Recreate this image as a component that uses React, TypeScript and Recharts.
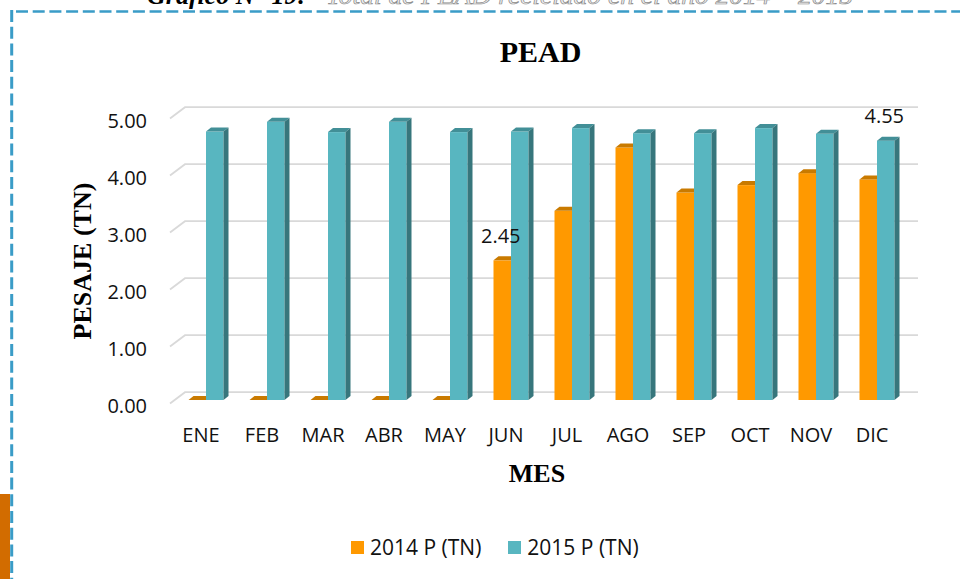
import React from 'react';
import { BarChart, Bar, XAxis, YAxis, CartesianGrid, Legend, LabelList } from 'recharts';

const meses = ['ENE', 'FEB', 'MAR', 'ABR', 'MAY', 'JUN', 'JUL', 'AGO', 'SEP', 'OCT', 'NOV', 'DIC'];
const p2014 = [0, 0, 0, 0, 0, 2.45, 3.32, 4.43, 3.64, 3.77, 3.98, 3.87];
const p2015 = [4.71, 4.88, 4.7, 4.88, 4.7, 4.71, 4.77, 4.68, 4.68, 4.77, 4.67, 4.55];
const etiquetas2014 = [null, null, null, null, null, 2.45, null, null, null, null, null, null];
const etiquetas2015 = [null, null, null, null, null, null, null, null, null, null, null, 4.55];
const yTicks = [0, 1, 2, 3, 4, 5];

const data = meses.map((m, i) => ({
  mes: m,
  a2014: p2014[i],
  a2015: p2015[i],
  l2014: etiquetas2014[i],
  l2015: etiquetas2015[i],
}));

const TICK_FONT = "'Open Sans', 'Noto Sans', sans-serif";
const SERIF = "'Liberation Serif', 'Times New Roman', serif";

const make3D = (front: string, top: string, side: string) => (props: any) => {
  const { x, y, width, height } = props;
  if (x == null || y == null) return null;
  const d = 5;
  const dv = 4;
  const h = Math.max(0, height || 0);
  return (
    <g>
      <rect x={x} y={y} width={width} height={h} fill={front} />
      <polygon points={`${x},${y} ${x + d},${y - dv} ${x + width + d},${y - dv} ${x + width},${y}`} fill={top} />
      <polygon
        points={`${x + width},${y} ${x + width + d},${y - dv} ${x + width + d},${y + h - dv} ${x + width},${y + h}`}
        fill={side}
      />
    </g>
  );
};

const gridLine = (props: any) => {
  const { x1, x2, y1, index } = props;
  const y = y1;
  const fx = x1 - 5.5;
  const bx = x1 + 9.5;
  return (
    <g key={`gl-${index}-${y}`}>
      <polyline
        points={`${fx},${y + 3.5} ${bx},${y - 7.8} ${x2 + 10.5},${y - 7.8}`}
        fill="none"
        stroke="#D9D9D9"
        strokeWidth={1.8}
      />
    </g>
  );
};

const YTick = (props: any) => {
  const { x, y, payload } = props;
  return (
    <text x={x - 28.5} y={y + 13} textAnchor="end" fontFamily={TICK_FONT} fontSize={20} fill="#111">
      {Number(payload.value).toFixed(2)}
    </text>
  );
};

const XTick = (props: any) => {
  const { x, y, payload } = props;
  return (
    <text x={x - 5} y={y + 41.7} textAnchor="middle" fontFamily={TICK_FONT} fontSize={20} fill="#111">
      {payload.value}
    </text>
  );
};

const ValueLabel = (props: any) => {
  const { x, y, width, value } = props;
  if (value == null) return null;
  return (
    <text x={x + width / 2 - 1.5} y={y - 17.3} textAnchor="middle" fontFamily={TICK_FONT} fontSize={20} fill="#111">
      {Number(value).toFixed(2)}
    </text>
  );
};

const LegendContent = (props: any) => {
  const { payload } = props;
  return (
    <div
      style={{
        position: 'absolute',
        left: 351,
        top: 534,
        height: 26,
        display: 'flex',
        alignItems: 'center',
        fontFamily: TICK_FONT,
        fontSize: 21,
        color: '#111',
        whiteSpace: 'nowrap',
      }}
    >
      {(payload || []).map((p: any, i: number) => (
        <div key={i} style={{ display: 'flex', alignItems: 'center', marginRight: 27 }}>
          <span style={{ display: 'inline-block', width: 13, height: 13, background: p.color, marginRight: 6 }} />
          <span style={{ lineHeight: '26px' }}>{p.value}</span>
        </div>
      ))}
    </div>
  );
};

export default function App() {
  return (
    <div
      style={{
        position: 'absolute',
        left: 0,
        top: 0,
        width: 960,
        height: 579,
        overflow: 'hidden',
        background: '#ffffff',
      }}
    >
      <BarChart
        width={960}
        height={579}
        data={data}
        margin={{ top: 115, right: 52.5, bottom: 119, left: 75.5 }}
        barSize={17.5}
        barGap={0}
      >
        <CartesianGrid vertical={false} horizontal={gridLine as any} />
        <XAxis
          dataKey="mes"
          axisLine={false}
          tickLine={false}
          tickSize={0}
          tickMargin={0}
          height={60}
          interval={0}
          tick={<XTick />}
        />
        <YAxis
          domain={[0, 5]}
          ticks={yTicks}
          axisLine={false}
          tickLine={false}
          tickSize={0}
          tickMargin={0}
          width={100}
          tick={<YTick />}
        />
        <Legend content={<LegendContent />} wrapperStyle={{ left: 0, top: 0, width: 0, height: 0 }} />
        <Bar
          dataKey="a2014"
          name="2014 P (TN)"
          fill="#FF9900"
          isAnimationActive={false}
          shape={make3D('#FF9900', '#C97A00', '#B86E00')}
        >
          <LabelList dataKey="l2014" content={<ValueLabel />} />
        </Bar>
        <Bar
          dataKey="a2015"
          name="2015 P (TN)"
          fill="#58B6C0"
          isAnimationActive={false}
          shape={make3D('#58B6C0', '#428F97', '#37767C')}
        >
          <LabelList dataKey="l2015" content={<ValueLabel />} />
        </Bar>
      </BarChart>
      <svg
        width={960}
        height={579}
        style={{ position: 'absolute', left: 0, top: 0, pointerEvents: 'none' }}
      >
        <text x={147} y={4} fontFamily={SERIF} fontSize={26} fontWeight="bold" fontStyle="italic" fill="#000">
          Gráfico N° 19:
        </text>
        <text
          x={326}
          y={4}
          fontFamily={SERIF}
          fontSize={26}
          fontStyle="italic"
          fill="#efefef"
          stroke="#8a8a8a"
          strokeWidth={0.7}
          textLength={527}
          lengthAdjust="spacingAndGlyphs"
        >
          Total de PEAD reciclado en el año 2014 – 2015
        </text>
        <rect x={0} y={494} width={10} height={85} fill="#D26C00" />
        <line x1={16} y1={11.5} x2={960} y2={11.5} stroke="#3A9CC7" strokeWidth={2.5} strokeDasharray="12 4.7" />
        <line x1={11.7} y1={10} x2={11.7} y2={579} stroke="#3A9CC7" strokeWidth={3} strokeDasharray="12 4.7" />
        <text x={540.5} y={61.7} textAnchor="middle" fontFamily={SERIF} fontSize={30} fontWeight="bold" fill="#000">
          PEAD
        </text>
        <text
          x={0}
          y={0}
          transform="translate(90.7,261) rotate(-90)"
          textAnchor="middle"
          fontFamily={SERIF}
          fontSize={26}
          fontWeight="bold"
          fill="#000"
        >
          PESAJE (TN)
        </text>
        <text x={537} y={482} textAnchor="middle" fontFamily={SERIF} fontSize={26} fontWeight="bold" fill="#000">
          MES
        </text>
      </svg>
    </div>
  );
}
